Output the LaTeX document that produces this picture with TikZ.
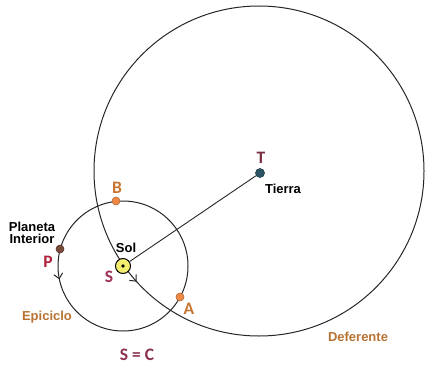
\documentclass[tikz,border=0pt]{standalone}
\usepackage{fontspec}
\setmainfont{Liberation Sans}
\newfontfamily\calfont{Carlito}
\usetikzlibrary{arrows.meta,decorations.markings}
\definecolor{tlab}{HTML}{7A3040}
\definecolor{slab}{HTML}{A03055}
\definecolor{plab}{HTML}{B0203A}
\definecolor{ablab}{HTML}{C87530}
\definecolor{brown1}{HTML}{B87333}
\definecolor{sclab}{HTML}{8B2F50}
\definecolor{orangedot}{HTML}{EE8844}
\definecolor{browndot}{HTML}{7A4A3A}
\definecolor{tealdot}{HTML}{2E5566}
\definecolor{sunfill}{HTML}{F4EE70}
\tikzset{
  orb/.style={line width=1pt, draw=black!85},
  letter/.style={inner sep=0pt, font=\calfont\bfseries\fontsize{17.5}{17.5}\selectfont},
  blab/.style={inner sep=0pt, font=\bfseries\fontsize{13}{13}\selectfont},
  dotp/.style={circle, inner sep=0pt, minimum size=8pt, line width=0.6pt}
}
\begin{document}
\begin{tikzpicture}[x=1pt,y=-1pt]
\useasboundingbox (0,0) rectangle (425,369);
\coordinate (Tc) at (259,171);
\coordinate (Sc) at (123,266);
% deferent
\draw[orb, postaction={decorate}, decoration={markings,
  mark=at position 0.383 with {\arrowreversed[line width=1pt]{Straight Barb[length=5pt,width=9pt]}}}]
  (Tc) circle[radius=165];
% epicycle
\draw[orb, postaction={decorate}, decoration={markings,
  mark=at position 0.467 with {\arrowreversed[line width=1pt]{Straight Barb[length=5pt,width=9pt]}}}]
  (Sc) circle[radius=65];
% radius line
\node[dotp, fill=tealdot, draw=tealdot!70!black, minimum size=9pt] (T) at (260,173) {};
\node[circle, inner sep=0pt, minimum size=15pt, fill=sunfill, draw=black, line width=1pt] (sun) at (Sc) {};
\draw[line width=0.9pt, black!85] (sun) -- (T);
\fill[black] (Sc) circle[radius=1.8];
% planets
\node[dotp, fill=orangedot, draw=orangedot!75!black] (B) at (116,201) {};
\node[dotp, fill=orangedot, draw=orangedot!75!black] (A) at (180,297) {};
\node[dotp, fill=browndot, draw=browndot!70!black] (P) at (60,249) {};
% labels
\node[letter, text=tlab] (Tl) at (261,158) {T};
\node[blab] (tierra) at (283,189) {Tierra};
\node[blab] (sol) at (126,248) {Sol};
\node[blab, align=center, font=\bfseries\fontsize{13}{12}\selectfont] (pi) at (32,233) {Planeta\\Interior};
\node[letter, text=plab] (Pl) at (48,262) {P};
\node[letter, text=slab] (Sl) at (109,277) {S};
\node[letter, text=ablab] (Bl) at (117,188) {B};
\node[letter, text=ablab] (Al) at (189,309) {A};
\node[blab, text=brown1] (epi) at (47,317) {Epiciclo};
\node[blab, text=brown1] (def) at (358,337) {Deferente};
\node[letter, text=sclab] (sc) at (137,355) {S = C};
\end{tikzpicture}
\end{document}
